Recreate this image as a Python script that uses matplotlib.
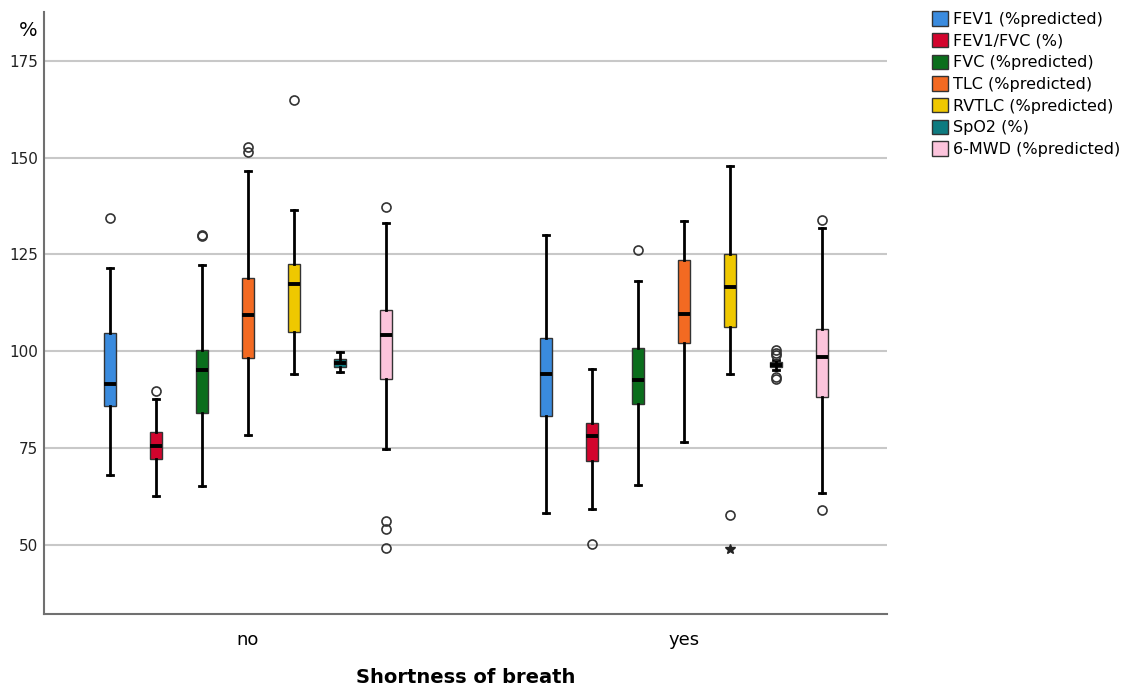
import matplotlib
matplotlib.use("Agg")
import matplotlib.pyplot as plt
from matplotlib.patches import Patch

# Measures shown for each group
measures = ["FEV1 (%predicted)", "FEV1/FVC (%)", "FVC (%predicted)", "TLC (%predicted)",
            "RVTLC (%predicted)", "SpO2 (%)", "6-MWD (%predicted)"]
colors = ["#3a8bde", "#d2042d", "#0a6e1c", "#f36a22", "#efc800", "#0e7b80", "#fcc4dc"]
groups = ["no", "yes"]

# Box statistics per group, one entry per measure
no_whislo = [68.0, 62.7, 65.1, 78.4, 94.2, 94.5, 74.8]
no_q1 = [85.7, 72.2, 84.0, 98.2, 105.0, 96.0, 92.9]
no_med = [91.5, 75.4, 95.1, 109.3, 117.3, 97.0, 104.1]
no_q3 = [104.7, 79.1, 100.4, 119.0, 122.6, 98.0, 110.6]
no_whishi = [121.5, 87.7, 122.2, 146.4, 136.4, 99.8, 133.0]
no_fliers = [[134.3], [89.6], [129.7, 130.1], [151.5, 152.8], [164.8], [],
             [137.3, 56.2, 54.0, 49.1]]
no_extremes = [[], [], [], [], [], [], []]

yes_whislo = [58.2, 59.2, 65.3, 76.6, 94.1, 95.1, 63.3]
yes_q1 = [83.3, 71.6, 86.3, 102.0, 106.3, 95.9, 88.1]
yes_med = [94.1, 78.1, 92.5, 109.7, 116.6, 96.5, 98.4]
yes_q3 = [103.4, 81.4, 100.9, 123.6, 125.0, 97.2, 105.8]
yes_whishi = [130.1, 95.3, 118.1, 133.6, 147.9, 97.8, 131.8]
yes_fliers = [[], [50.3], [126.0], [], [57.7], [100.4, 99.6, 99.1, 93.2, 92.9],
              [133.8, 59.0]]
yes_extremes = [[], [], [], [], [48.9], [], []]

stats_by_group = [
    (no_whislo, no_q1, no_med, no_q3, no_whishi, no_fliers, no_extremes),
    (yes_whislo, yes_q1, yes_med, yes_q3, yes_whishi, yes_fliers, yes_extremes),
]

fig = plt.figure(figsize=(11.33, 6.88), dpi=100)
ax = fig.add_axes([0.0388, 0.1076, 0.7442, 0.875])

offset = 0.1055
width = 0.029

for g, (wlo, q1, med, q3, whi, fl, ext) in enumerate(stats_by_group):
    for i in range(len(measures)):
        pos = g + (i - 3) * offset
        st = [dict(whislo=wlo[i], q1=q1[i], med=med[i], q3=q3[i], whishi=whi[i], fliers=fl[i])]
        ax.bxp(st, positions=[pos], widths=width, capwidths=0.014, patch_artist=True,
               manage_ticks=False,
               boxprops=dict(facecolor=colors[i], edgecolor="#333333", linewidth=1.0),
               medianprops=dict(color="black", linewidth=2.8),
               whiskerprops=dict(color="black", linewidth=2.0),
               capprops=dict(color="black", linewidth=2.0),
               flierprops=dict(marker="o", markersize=6.5, markerfacecolor="none",
                               markeredgecolor="#333333", markeredgewidth=1.2),
               zorder=3)
        if ext[i]:
            ax.plot([pos] * len(ext[i]), ext[i], linestyle="none", marker="*",
                    markersize=7, color="#222222", zorder=3)

ax.set_xlim(-0.468, 1.466)
ax.set_ylim(32.1, 187.6)
ax.set_yticks([50, 75, 100, 125, 150, 175])
ax.set_xticks([0, 1])
ax.set_xticklabels(groups, fontsize=13)
ax.tick_params(axis="y", length=0, pad=4, labelsize=11, labelcolor="#222222")
ax.tick_params(axis="x", length=0, pad=12)
ax.grid(axis="y", color="#c8c8c8", linewidth=1.5, zorder=0)
ax.set_axisbelow(True)

for side in ["top", "right"]:
    ax.spines[side].set_visible(False)
for side in ["left", "bottom"]:
    ax.spines[side].set_color("#707070")
    ax.spines[side].set_linewidth(1.5)

ax.set_xlabel("Shortness of breath", fontsize=14, fontweight="bold", labelpad=14)
ax.text(-0.008, 0.97, "%", transform=ax.transAxes, ha="right", va="center", fontsize=14)

handles = [Patch(facecolor=c, edgecolor="#333333", linewidth=1.0) for c in colors]
fig.legend(handles, measures, loc="upper left", bbox_to_anchor=(0.817, 0.993),
           frameon=False, fontsize=11.5, handlelength=1.0, handleheight=1.0,
           handletextpad=0.3, labelspacing=0.38, borderaxespad=0)

fig.savefig("out.png", dpi=100)
